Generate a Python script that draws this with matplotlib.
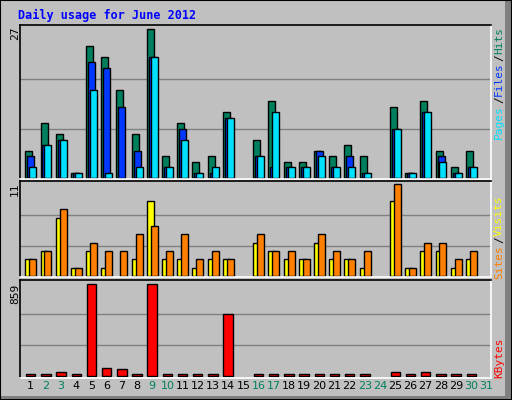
import numpy as np
import matplotlib.pyplot as plt
from matplotlib.patches import Rectangle

days = list(range(1, 32))
hits = [5, 10, 8, 1, 24, 22, 16, 8, 27, 4, 10, 3, 4, 12, 0,
        7, 14, 3, 3, 5, 4, 6, 4, 0, 13, 1, 14, 5, 2, 5, 0]
files = [4, 6, 7, 1, 21, 20, 13, 5, 22, 2, 9, 1, 1, 11, 0,
         4, 2, 2, 2, 5, 2, 4, 1, 0, 9, 1, 12, 4, 1, 2, 0]
pages = [2, 6, 7, 1, 16, 1, 0, 2, 22, 2, 7, 1, 2, 11, 0,
         4, 12, 2, 2, 4, 2, 2, 1, 0, 9, 1, 12, 3, 1, 2, 0]
sites = [2, 3, 7, 1, 3, 1, 0, 2, 9, 2, 2, 1, 2, 2, 0,
         4, 3, 2, 2, 4, 2, 2, 1, 0, 9, 1, 3, 3, 1, 2, 0]
visits = [2, 3, 8, 1, 4, 3, 3, 5, 6, 3, 5, 2, 3, 2, 0,
          5, 3, 3, 2, 5, 3, 2, 3, 0, 11, 1, 4, 4, 2, 3, 0]
kbytes = [18, 18, 35, 18, 859, 75, 65, 18, 859, 18, 18, 18, 18, 576, 0,
          18, 18, 18, 18, 18, 18, 18, 18, 0, 35, 18, 35, 18, 18, 18, 0]
weekend = [2, 3, 9, 10, 16, 17, 23, 24, 30, 31]

BG = "#c0c0c0"
MONO = "DejaVu Sans Mono"

fig = plt.figure(figsize=(5.12, 4.0), dpi=100, facecolor=BG)
fig.patches.append(Rectangle((505 / 512, 0), 7 / 512, 1, transform=fig.transFigure,
                             facecolor="#808080", edgecolor="none"))
fig.patches.append(Rectangle((0, 0), 1, 4 / 400, transform=fig.transFigure,
                             facecolor="#808080", edgecolor="none"))
fig.patches.append(Rectangle((0, 0), 1, 1, transform=fig.transFigure,
                             fill=False, edgecolor="black", lw=1.5))


def panel(y0, y1):
    return fig.add_axes([20 / 512, (400 - y1) / 400, 471 / 512, (y1 - y0) / 400],
                        facecolor=BG)


x = np.arange(31)
ax1 = panel(25, 179)
ax2 = panel(181, 277)
ax3 = panel(280, 378)

kw = dict(align="edge", edgecolor="black", linewidth=1)
b = [h > 0 for h in hits]
ax1.bar(x[b] + 0.35, np.array(hits)[b], 0.46, color="#007f5f", **kw)
b = [h > 0 for h in files]
ax1.bar(x[b] + 0.48, np.array(files)[b], 0.46, color="#0038ff", **kw)
b = [h > 0 for h in pages]
ax1.bar(x[b] + 0.61, np.array(pages)[b], 0.46, color="#00e0ff", **kw)
ax1.set_ylim(-0.15, 27.8)
ax1.axhline(9, color="#808080", lw=1, zorder=0)
ax1.axhline(18, color="#808080", lw=1, zorder=0)

b = [h > 0 for h in sites]
ax2.bar(x[b] + 0.35, np.array(sites)[b], 0.46, color="#ffff00", **kw)
b = [h > 0 for h in visits]
ax2.bar(x[b] + 0.61, np.array(visits)[b], 0.46, color="#ff8000", **kw)
ax2.set_ylim(-0.1, 11.4)
ax2.axhline(11 / 3, color="#808080", lw=1, zorder=0)
ax2.axhline(22 / 3, color="#808080", lw=1, zorder=0)

b = [h > 0 for h in kbytes]
ax3.bar(x[b] + 0.39, np.array(kbytes)[b], 0.62, color="#ff0000", **kw)
ax3.set_ylim(-20, 894)
ax3.axhline(286, color="#808080", lw=1, zorder=0)
ax3.axhline(573, color="#808080", lw=1, zorder=0)

for ax in (ax1, ax2, ax3):
    ax.set_xlim(0, 31)
    ax.set_xticks([])
    ax.set_yticks([])
    for s in ax.spines.values():
        s.set_linewidth(1.2)
    ax.spines["right"].set_color("white")
    ax.spines["bottom"].set_color("white")
    ax.set_axisbelow(True)

for d in days:
    ax3.text(d - 0.5 + 0.2, -0.03, str(d), transform=ax3.get_xaxis_transform(),
             ha="center", va="top", fontsize=8,
             color="#008060" if d in weekend else "black")

fig.text(18 / 512, 1 - 9 / 400, "Daily usage for June 2012", color="#0000ff",
         family=MONO, fontweight="bold", fontsize=8.5, va="top")

for yy, t in [(27, "27"), (183, "11"), (284, "859")]:
    fig.text(15 / 512, 1 - yy / 400, t, rotation=90, ha="center", va="top",
             family=MONO, fontsize=8)

right = [(41, "Hits", "#007f5f"), (58, "/", "black"), (79, "Files", "#0038ff"),
         (100, "/", "black"), (122, "Pages", "#00e0ff"),
         (216, "Visits", "#ffff00"), (240, "/", "black"), (262, "Sites", "#ff8000"),
         (358, "KBytes", "#ff0000")]
for yy, t, c in right:
    fig.text(499 / 512, 1 - yy / 400, t, rotation=90, ha="center", va="center",
             family=MONO, fontsize=8, color=c)

fig.savefig("out.png", dpi=100, facecolor=BG)
